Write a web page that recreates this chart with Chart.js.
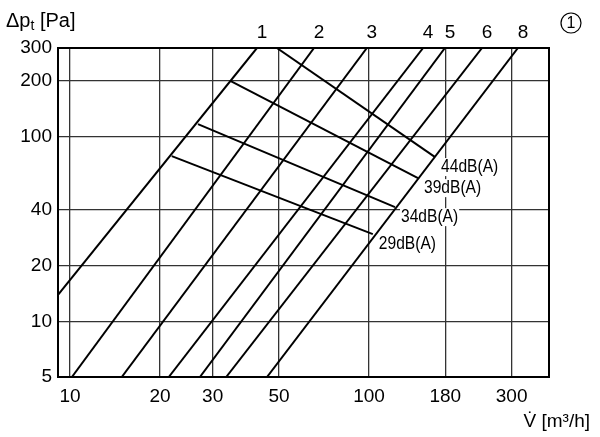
<!DOCTYPE html>
<html>
<head>
<meta charset="utf-8">
<script src="https://cdn.jsdelivr.net/npm/chart.js@4"></script>
<style>
    html, body { margin: 0; padding: 0; background: #fff; }
    #chart1 { display: block; }
</style>
</head>
<body>
<canvas id="chart1" width="600" height="437"></canvas>
<script>
// Kennlinien 1..8 (V in m3/h, dp in Pa), jeweils Anfang und Ende
const lineNames = ["1", "2", "3", "4", "5", "6", "8"];
const lineFlowStart = [9.12, 10.15, 14.9, 21.4, 27.2, 33.3, 45.6];
const linePressureStart = [13.9, 5, 5, 5, 5, 5, 5];
const lineFlowEnd = [42.2, 65.5, 98.4, 151.7, 179.5, 238.8, 314.9];
const linePressureEnd = [300, 300, 300, 300, 300, 300, 300];

// Schallleistungs-Linien
const soundNames = ["44dB(A)", "39dB(A)", "34dB(A)", "29dB(A)"];
const soundFlowStart = [49.2, 34.5, 26.8, 21.9];
const soundPressureStart = [300, 198.6, 116.4, 78.1];
const soundFlowEnd = [166.4, 145.9, 122.2, 103];
const soundPressureEnd = [77.2, 59.4, 41.4, 29.6];

// Achsen
const flowTicks = [10, 20, 30, 50, 100, 180, 300];
const pressureTicks = [5, 10, 20, 40, 100, 200, 300];

const fontMain = "Liberation Sans, Arial, sans-serif";

const datasets = [];
lineNames.forEach((name, i) => {
    datasets.push({
        label: name,
        data: [
            { x: lineFlowStart[i], y: linePressureStart[i] },
            { x: lineFlowEnd[i], y: linePressureEnd[i] }
        ]
    });
});
soundNames.forEach((name, i) => {
    datasets.push({
        label: name,
        data: [
            { x: soundFlowStart[i], y: soundPressureStart[i] },
            { x: soundFlowEnd[i], y: soundPressureEnd[i] }
        ]
    });
});
datasets.forEach(ds => {
    ds.showLine = true;
    ds.borderColor = "#000";
    ds.borderWidth = 2;
    ds.pointRadius = 0;
    ds.fill = false;
});

// Texte, Rahmen usw.
const labelsPlugin = {
    id: "labels",
    afterDraw: (chart) => {
        const ctx = chart.ctx;
        const area = chart.chartArea;
        const xScale = chart.scales.x;
        const yScale = chart.scales.y;
        ctx.save();

        // Rahmen
        ctx.strokeStyle = "#000";
        ctx.lineWidth = 2;
        ctx.strokeRect(area.left, area.top, area.right - area.left, area.bottom - area.top);

        ctx.fillStyle = "#000";

        // Nummern oben
        ctx.font = "19px " + fontMain;
        ctx.textAlign = "center";
        ctx.textBaseline = "alphabetic";
        lineNames.forEach((name, i) => {
            const px = xScale.getPixelForValue(lineFlowEnd[i]);
            ctx.fillText(name, px + 5, 38);
        });

        // dB-Beschriftungen (schmale Schrift)
        ctx.font = "19px " + fontMain;
        ctx.textAlign = "left";
        ctx.textBaseline = "middle";
        const narrow = 0.82;
        soundNames.forEach((name, i) => {
            const px = xScale.getPixelForValue(soundFlowEnd[i]) + 6;
            const py = yScale.getPixelForValue(soundPressureEnd[i]) + 10;
            const w = ctx.measureText(name).width * narrow;
            ctx.fillStyle = "#fff";
            ctx.fillRect(px - 1, py - 9, w + 2, 18);
            ctx.fillStyle = "#000";
            ctx.save();
            ctx.translate(px, py);
            ctx.scale(narrow, 1);
            ctx.fillText(name, 0, 0);
            ctx.restore();
        });

        // Achsentitel Y
        ctx.textAlign = "left";
        ctx.textBaseline = "alphabetic";
        ctx.font = "20px " + fontMain;
        let tx = 6;
        ctx.fillText("Δp", tx, 27);
        tx += ctx.measureText("Δp").width;
        ctx.font = "14px " + fontMain;
        ctx.fillText("t", tx, 30);
        tx += ctx.measureText("t").width;
        ctx.font = "20px " + fontMain;
        ctx.fillText(" [Pa]", tx, 27);

        // Achsentitel X
        ctx.font = "19px " + fontMain;
        ctx.textAlign = "right";
        ctx.fillText("V\u0307 [m³/h]", 590, 427);

        // Kreis-Nummer
        ctx.lineWidth = 1.2;
        ctx.beginPath();
        ctx.arc(571, 23, 10, 0, Math.PI * 2);
        ctx.stroke();
        ctx.font = "16px " + fontMain;
        ctx.textAlign = "center";
        ctx.textBaseline = "middle";
        ctx.fillText("1", 571, 24);

        ctx.restore();
    }
};

const chart1 = document.querySelector("#chart1");
if (chart1) {
    new Chart(chart1, {
        type: "scatter",
        data: { datasets: datasets },
        options: {
            responsive: false,
            animation: false,
            devicePixelRatio: 1,
            layout: {
                padding: { top: 48, right: 51, left: 0, bottom: 0 }
            },
            plugins: {
                legend: { display: false },
                tooltip: { enabled: false }
            },
            scales: {
                x: {
                    type: "logarithmic",
                    min: 9.12,
                    max: 400,
                    border: { display: false },
                    grid: { color: "#333", lineWidth: 1.3, drawTicks: false },
                    ticks: {
                        color: "#000",
                        font: { size: 19, family: fontMain },
                        padding: 8,
                        autoSkip: false,
                        maxRotation: 0,
                        callback: (value) => String(value)
                    },
                    afterBuildTicks: (axis) => {
                        axis.ticks = flowTicks.map(v => ({ value: v }));
                    },
                    afterFit: (axis) => {
                        axis.height = 60;
                    }
                },
                y: {
                    type: "logarithmic",
                    min: 5,
                    max: 300,
                    border: { display: false },
                    grid: { color: "#333", lineWidth: 1.3, drawTicks: false },
                    ticks: {
                        color: "#000",
                        font: { size: 19, family: fontMain },
                        padding: 6,
                        autoSkip: false,
                        callback: (value) => String(value)
                    },
                    afterBuildTicks: (axis) => {
                        axis.ticks = pressureTicks.map(v => ({ value: v }));
                    },
                    afterFit: (axis) => {
                        axis.width = 58;
                    }
                }
            }
        },
        plugins: [labelsPlugin]
    });
}
</script>
</body>
</html>
